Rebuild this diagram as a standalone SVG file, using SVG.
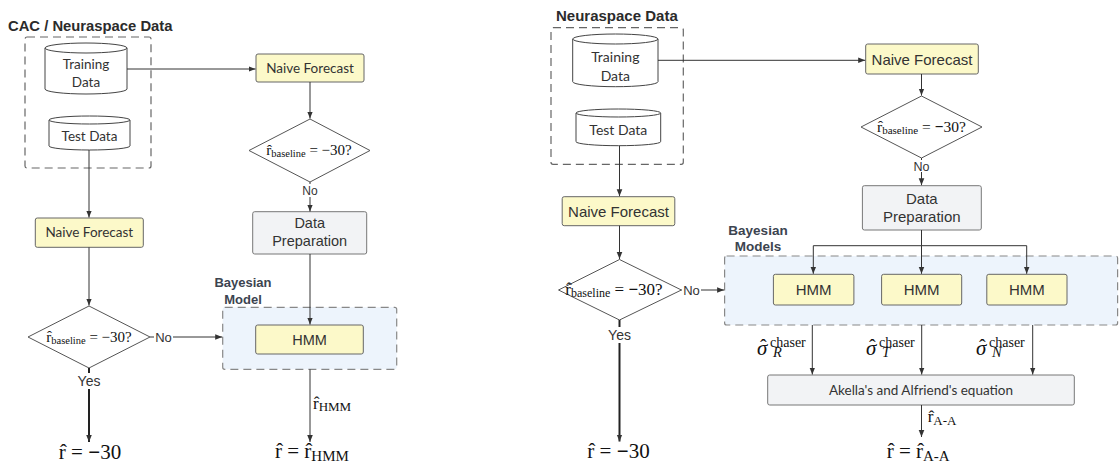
<svg xmlns="http://www.w3.org/2000/svg" width="1119" height="464" viewBox="0 0 1119 464">
<defs>
<marker id="ah" markerWidth="8" markerHeight="8" refX="7" refY="4" orient="auto" markerUnits="userSpaceOnUse"><path d="M0,1.2 L7,4 L0,6.8 Z" fill="#333"/></marker>
<style>
.title{font-family:"Liberation Sans",Arial,sans-serif;font-weight:bold;fill:#2b2b2b}
.grp{font-family:"Liberation Sans",Arial,sans-serif;font-weight:bold;fill:#3c4450}
.cm{font-family:Lato,"Open Sans",sans-serif;fill:#333}
.ar{font-family:"Liberation Sans",Arial,sans-serif;fill:#333}
.tm{font-family:"Liberation Serif","Times New Roman",serif;fill:#111}
.dash{fill:none;stroke:#666;stroke-width:1.2;stroke-dasharray:8 5}
.bayes{fill:#edf4fc;stroke:#888;stroke-width:1.2;stroke-dasharray:8 5}
.yel{fill:#fcf9c9;stroke:#666;stroke-width:1}
.gray{fill:#f2f3f5;stroke:#777;stroke-width:1}
.cyl{fill:#fff;stroke:#444;stroke-width:1}
.dia{fill:#fff;stroke:#555;stroke-width:1}
.ln{fill:none;stroke:#333;stroke-width:1;marker-end:url(#ah)}
.thk{fill:none;stroke:#222;stroke-width:2;marker-end:url(#ah)}
.lbl{fill:#fff}
</style>
</defs>

<!-- ===== LEFT DIAGRAM ===== -->
<g id="left-data-group">
<text class="title" x="8" y="31" font-size="14.8">CAC / Neuraspace Data</text>
<rect class="dash" x="25" y="37" width="126" height="131" rx="2"/>
</g>
<g id="left-training">
<path class="cyl" d="M45,48 V89 A41,5 0 0 0 127,89 V48"/>
<ellipse class="cyl" cx="86" cy="48" rx="41" ry="5"/>
<text class="cm" x="86" y="68.5" font-size="13.5" text-anchor="middle">Training</text>
<text class="cm" x="86" y="87" font-size="13.5" text-anchor="middle">Data</text>
</g>
<g id="left-test">
<path class="cyl" d="M49,120 V146 A40.5,4 0 0 0 130,146 V120"/>
<ellipse class="cyl" cx="89.5" cy="120" rx="40.5" ry="4"/>
<text class="cm" x="89.5" y="140.5" font-size="13.5" text-anchor="middle">Test Data</text>
</g>
<g id="left-naive-top">
<rect class="yel" x="256" y="54" width="108" height="28" rx="2"/>
<text class="cm" x="310" y="72.5" font-size="13.5" text-anchor="middle">Naive Forecast</text>
</g>
<g id="left-diamond-top">
<polygon class="dia" points="310,119 370,150.5 310,182 249,150.5"/>
<text class="tm" x="309" y="155" font-size="15" text-anchor="middle">r̂<tspan font-size="10.5" dy="2">baseline</tspan><tspan dy="-2"> = −30?</tspan></text>
</g>
<g id="left-dataprep">
<rect class="gray" x="252.7" y="211.7" width="114" height="42.3" rx="2"/>
<text class="ar" x="309.7" y="228" font-size="14.5" text-anchor="middle">Data</text>
<text class="ar" x="309.7" y="246" font-size="14.5" text-anchor="middle">Preparation</text>
</g>
<g id="left-naive-low">
<rect class="yel" x="35.3" y="218" width="108" height="29.3" rx="2"/>
<text class="cm" x="89.3" y="237" font-size="13.5" text-anchor="middle">Naive Forecast</text>
</g>
<g id="left-diamond-low">
<polygon class="dia" points="89,306 150,337 89,368 28,337"/>
<text class="tm" x="89" y="341.5" font-size="15" text-anchor="middle">r̂<tspan font-size="10.5" dy="2">baseline</tspan><tspan dy="-2"> = −30?</tspan></text>
</g>
<g id="left-bayesian">
<text class="grp" x="243" y="286.5" font-size="13" text-anchor="middle">Bayesian</text>
<text class="grp" x="243" y="303.5" font-size="13" text-anchor="middle">Model</text>
<rect class="bayes" x="222.7" y="307.3" width="174" height="62" rx="2"/>
</g>
<g id="left-hmm">
<rect class="yel" x="255.7" y="325" width="107.6" height="29" rx="2"/>
<text class="ar" x="309.5" y="344.5" font-size="14.5" text-anchor="middle">HMM</text>
</g>
<g id="left-out-30">
<text class="tm" x="90" y="459" font-size="21" text-anchor="middle">r̂ = <tspan font-weight="bold">−</tspan>30</text>
</g>
<g id="left-out-hmm">
<text class="tm" x="275" y="458" font-size="21">r̂ = r̂<tspan font-size="15" dy="2.5">HMM</tspan></text>
</g>

<!-- ===== RIGHT DIAGRAM ===== -->
<g id="right-data-group">
<text class="title" x="556" y="20.5" font-size="15">Neuraspace Data</text>
<rect class="dash" x="551" y="27.7" width="132.3" height="136.6" rx="2"/>
</g>
<g id="right-training">
<path class="cyl" d="M572.7,39 V81.7 A42.65,5 0 0 0 658,81.7 V39"/>
<ellipse class="cyl" cx="615.35" cy="39" rx="42.65" ry="5"/>
<text class="cm" x="615.3" y="61.5" font-size="14" text-anchor="middle">Training</text>
<text class="cm" x="615.3" y="80.5" font-size="14" text-anchor="middle">Data</text>
</g>
<g id="right-test">
<path class="cyl" d="M576,113 V141.7 A42.35,4 0 0 0 660.7,141.7 V113"/>
<ellipse class="cyl" cx="618.35" cy="113" rx="42.35" ry="4"/>
<text class="cm" x="618.3" y="135" font-size="14" text-anchor="middle">Test Data</text>
</g>
<g id="right-naive-top">
<rect class="yel" x="865.7" y="44" width="112.6" height="30" rx="2"/>
<text class="ar" x="922" y="64.5" font-size="15" text-anchor="middle">Naive Forecast</text>
</g>
<g id="right-diamond-top">
<polygon class="dia" points="921.5,96 982,127 921.5,158 861,127"/>
<text class="tm" x="921.5" y="131.5" font-size="15.5" text-anchor="middle">r̂<tspan font-size="11" dy="2">baseline</tspan><tspan dy="-2"> = <tspan font-weight="bold">−</tspan>30?</tspan></text>
</g>
<g id="right-dataprep">
<rect class="gray" x="862.4" y="185.7" width="118.9" height="44.3" rx="2"/>
<text class="ar" x="921.8" y="203.5" font-size="15" text-anchor="middle">Data</text>
<text class="ar" x="921.8" y="221.5" font-size="15" text-anchor="middle">Preparation</text>
</g>
<g id="right-naive-low">
<rect class="yel" x="562.2" y="196.7" width="112.6" height="29" rx="2"/>
<text class="ar" x="618.5" y="216.5" font-size="15" text-anchor="middle">Naive Forecast</text>
</g>
<g id="right-diamond-low">
<polygon class="dia" points="619.5,259.5 681.4,290 619.5,320 558.5,290" />
<text class="tm" x="614" y="294.5" font-size="17" text-anchor="middle">r̂<tspan font-size="12" dy="2">baseline</tspan><tspan dy="-2"> = <tspan font-weight="bold">−</tspan>30?</tspan></text>
</g>
<g id="right-bayesian">
<text class="grp" x="758" y="235" font-size="13.5" text-anchor="middle">Bayesian</text>
<text class="grp" x="758" y="251" font-size="13.5" text-anchor="middle">Models</text>
<rect class="bayes" x="724.6" y="256" width="393" height="69" rx="2"/>
</g>
<g id="right-hmm-1">
<rect class="yel" x="773.4" y="274.3" width="80.5" height="30.7" rx="2"/>
<text class="ar" x="813.6" y="295" font-size="15" text-anchor="middle">HMM</text>
</g>
<g id="right-hmm-2">
<rect class="yel" x="881.6" y="274.3" width="80.1" height="30.7" rx="2"/>
<text class="ar" x="921.6" y="295" font-size="15" text-anchor="middle">HMM</text>
</g>
<g id="right-hmm-3">
<rect class="yel" x="986.8" y="274.3" width="80.2" height="30.7" rx="2"/>
<text class="ar" x="1026.9" y="295" font-size="15" text-anchor="middle">HMM</text>
</g>
<g id="right-akella">
<rect class="gray" x="767.7" y="375" width="306.6" height="30" rx="2"/>
<text class="cm" x="921" y="394.5" font-size="13.5" text-anchor="middle">Akella's and Alfriend's equation</text>
</g>
<g id="right-out-30">
<text class="tm" x="618.5" y="458" font-size="21" text-anchor="middle">r̂ = <tspan font-weight="bold">−</tspan>30</text>
</g>
<g id="right-out-aa">
<text class="tm" x="886.7" y="458" font-size="21">r̂ = r̂<tspan font-size="15" dy="2.5">A-A</tspan></text>
</g>

<!-- ===== CONNECTORS ===== -->
<g id="connectors">
<!-- left -->
<line class="ln" x1="127" y1="69" x2="255.5" y2="69"/>
<line class="ln" x1="310" y1="82" x2="310" y2="118.5"/>
<line class="ln" x1="310" y1="182" x2="310" y2="211.5"/>
<rect class="lbl" x="300" y="184" width="20" height="13"/>
<text class="ar" x="310" y="194.5" font-size="12" text-anchor="middle">No</text>
<line class="ln" x1="310" y1="254" x2="310" y2="324.5"/>
<line class="ln" x1="89" y1="150" x2="89" y2="217.5"/>
<line class="ln" x1="89" y1="247.3" x2="89" y2="305.5"/>
<line class="ln" x1="150" y1="337" x2="222.2" y2="337"/>
<rect class="lbl" x="154" y="330" width="19" height="14"/>
<text class="ar" x="163.5" y="341.5" font-size="13" text-anchor="middle">No</text>
<line class="thk" x1="89" y1="368" x2="89" y2="442"/>
<rect class="lbl" x="75" y="373" width="28" height="16"/>
<text class="ar" x="89" y="386" font-size="14" text-anchor="middle">Yes</text>
<line class="ln" x1="310" y1="369.3" x2="310" y2="442"/>
<text class="tm" x="313" y="408.5" font-size="17">r̂<tspan font-size="13" dy="2.5">HMM</tspan></text>
<!-- right -->
<line class="ln" x1="658" y1="60.3" x2="865.2" y2="60.3"/>
<line class="ln" x1="921.5" y1="74" x2="921.5" y2="95.5"/>
<line class="ln" x1="921.5" y1="158" x2="921.5" y2="185.2"/>
<rect class="lbl" x="912" y="160" width="19" height="12"/>
<text class="ar" x="921.5" y="170.5" font-size="12.5" text-anchor="middle">No</text>
<line class="ln" x1="619.5" y1="146" x2="619.5" y2="196.2"/>
<line class="ln" x1="619.5" y1="225.7" x2="619.5" y2="259"/>
<line class="ln" x1="681.4" y1="290" x2="724.1" y2="290" stroke-width="1.6"/>
<rect class="lbl" x="682" y="283" width="19" height="14"/>
<text class="ar" x="691.5" y="294.5" font-size="13" text-anchor="middle">No</text>
<line class="thk" x1="619.5" y1="320" x2="619.5" y2="441.5"/>
<rect class="lbl" x="604" y="327" width="31" height="16"/>
<text class="ar" x="619.5" y="340" font-size="14" text-anchor="middle">Yes</text>
<polyline fill="none" stroke="#333" stroke-width="1" points="813.3,245.7 1026.7,245.7"/>
<line fill="none" stroke="#333" stroke-width="1" x1="921.5" y1="230" x2="921.5" y2="245.7"/>
<line class="ln" x1="813.3" y1="245.7" x2="813.3" y2="273.8"/>
<line class="ln" x1="921.5" y1="245.7" x2="921.5" y2="273.8"/>
<line class="ln" x1="1026.7" y1="245.7" x2="1026.7" y2="273.8"/>
<line class="ln" x1="812.3" y1="325" x2="812.3" y2="374.5"/>
<line class="ln" x1="921.7" y1="325" x2="921.7" y2="374.5"/>
<line class="ln" x1="1032.7" y1="325" x2="1032.7" y2="374.5"/>
<text class="tm" x="757" y="355" font-size="21" font-style="italic">σ</text>
<text class="tm" x="760" y="354" font-size="20">ˆ</text>
<text class="tm" x="770" y="347" font-size="14">chaser</text>
<text class="tm" x="773" y="357" font-size="14.5" font-style="italic">R</text>
<text class="tm" x="866" y="355" font-size="21" font-style="italic">σ</text>
<text class="tm" x="869" y="354" font-size="20">ˆ</text>
<text class="tm" x="879" y="347" font-size="14">chaser</text>
<text class="tm" x="882" y="357" font-size="14.5" font-style="italic">T</text>
<text class="tm" x="976" y="355" font-size="21" font-style="italic">σ</text>
<text class="tm" x="979" y="354" font-size="20">ˆ</text>
<text class="tm" x="989" y="347" font-size="14">chaser</text>
<text class="tm" x="992" y="357" font-size="14.5" font-style="italic">N</text>
<line class="ln" x1="921.5" y1="405" x2="921.5" y2="437"/>
<text class="tm" x="927.7" y="422" font-size="17">r̂<tspan font-size="13" dy="3">A-A</tspan></text>
</g>
</svg>
